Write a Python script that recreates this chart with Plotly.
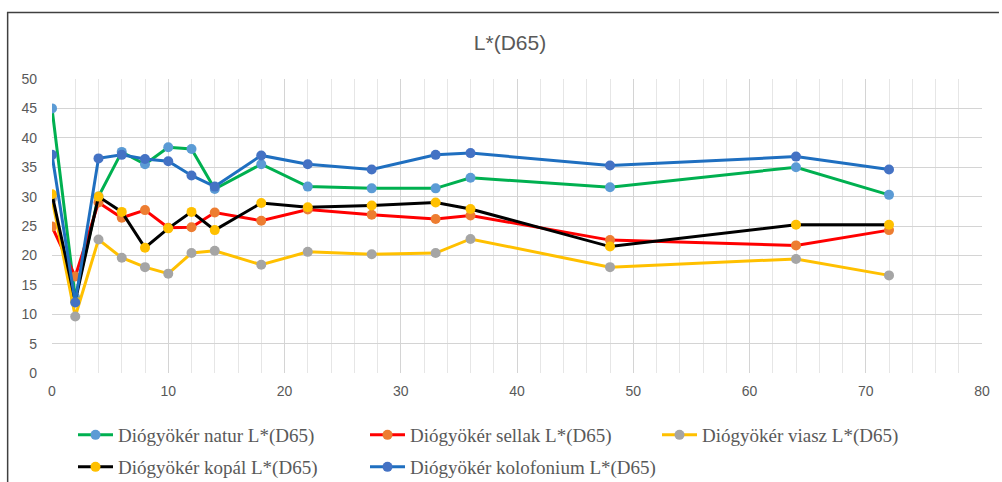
import plotly.graph_objects as go

# Sampling times (x axis)
time_points = [0, 2, 4, 6, 8, 10, 12, 14, 18, 22, 27.5, 33, 36, 48, 64, 72]

# L*(D65) values per surface treatment
natur = [45.0, 12.8, 30.0, 37.6, 35.5, 38.4, 38.1, 31.3, 35.5, 31.7, 31.4, 31.4, 33.2, 31.6, 35.0, 30.3]
sellak = [24.9, 16.4, 29.0, 26.4, 27.7, 24.7, 24.8, 27.3, 25.9, 27.8, 26.9, 26.2, 26.8, 22.6, 21.7, 24.3]
viasz = [29.7, 9.6, 22.7, 19.6, 18.0, 16.9, 20.4, 20.8, 18.4, 20.6, 20.2, 20.4, 22.8, 18.0, 19.4, 16.6]
kopal = [30.4, 12.2, 30.0, 27.4, 21.3, 24.6, 27.4, 24.3, 28.9, 28.2, 28.5, 29.0, 27.9, 21.5, 25.2, 25.2]
kolofonium = [37.1, 12.0, 36.5, 37.1, 36.4, 36.0, 33.6, 31.7, 37.0, 35.5, 34.6, 37.1, 37.4, 35.3, 36.8, 34.6]

series_names = [
    "Diógyökér natur L*(D65)",
    "Diógyökér sellak L*(D65)",
    "Diógyökér viasz L*(D65)",
    "Diógyökér kopál L*(D65)",
    "Diógyökér kolofonium L*(D65)",
]
series_values = [natur, sellak, viasz, kopal, kolofonium]
line_colors = ["#00B050", "#FF0000", "#FFC000", "#000000", "#1F6FC0"]
marker_colors = ["#5B9BD5", "#ED7D31", "#A5A5A5", "#FFC000", "#4472C4"]
legend_rows = ["legend", "legend", "legend", "legend2", "legend2"]

# Figure geometry (pixels)
W, H = 1002, 482
ML, MR, MT, MB = 52, 17, 79, 109
PW, PH = W - ML - MR, H - MT - MB

fig = go.Figure()
for name, vals, lc, mc, lg in zip(series_names, series_values, line_colors, marker_colors, legend_rows):
    fig.add_trace(go.Scatter(
        x=time_points, y=vals, name=name, mode="lines+markers",
        line=dict(color=lc, width=3),
        marker=dict(color=mc, size=10, symbol="circle"),
        legend=lg,
    ))

grid_major = "#D4D4D4"
grid_minor = "#E6E6E6"
tick_font = dict(family="Liberation Sans, Arial, sans-serif", size=14, color="#595959")

fig.update_xaxes(
    range=[0, 80], dtick=10, tick0=0, showgrid=True, gridcolor=grid_major, gridwidth=1,
    minor=dict(dtick=2, showgrid=True, gridcolor=grid_minor, gridwidth=1),
    zeroline=False, showline=False, ticks="", tickfont=tick_font, ticklabelstandoff=8,
    fixedrange=True,
)
fig.update_yaxes(
    range=[0, 50], dtick=5, tick0=0, showgrid=True, gridcolor=grid_major, gridwidth=1,
    zeroline=False, showline=False, ticks="", tickfont=tick_font, ticklabelstandoff=14,
    fixedrange=True,
)

def px_x(p):
    return (p - ML) / PW

def px_y(p):
    return (H - MB - p) / PH

# Outer chart frame (left and top edges)
fig.add_shape(
    type="path", xref="paper", yref="paper",
    path=f"M {px_x(7.5)} {px_y(482)} L {px_x(7.5)} {px_y(12.5)} L {px_x(1002)} {px_y(12.5)}",
    line=dict(color="#404040", width=1.5), layer="above",
)

legend_font = dict(family="Liberation Serif, Times New Roman, serif", size=19, color="#595959")
legend_common = dict(
    orientation="h", xref="container", yref="container", xanchor="left", yanchor="top",
    font=legend_font, entrywidth=242, entrywidthmode="pixels", itemwidth=35,
    bgcolor="rgba(0,0,0,0)", borderwidth=0, itemclick=False, itemdoubleclick=False,
)

fig.update_layout(
    width=W, height=H,
    margin=dict(l=ML, r=MR, t=MT, b=MB),
    paper_bgcolor="white", plot_bgcolor="white",
    title=dict(
        text="L*(D65)", x=510 / W, xanchor="center", xref="container",
        y=1 - 43 / H, yanchor="middle", yref="container",
        font=dict(family="Liberation Sans, Arial, sans-serif", size=21, color="#595959"),
    ),
    legend=dict(x=73 / W, y=1 - 416 / H, **legend_common),
    legend2=dict(x=73 / W, y=1 - 448 / H, **legend_common),
    showlegend=True,
)

fig.write_html("out.html")
